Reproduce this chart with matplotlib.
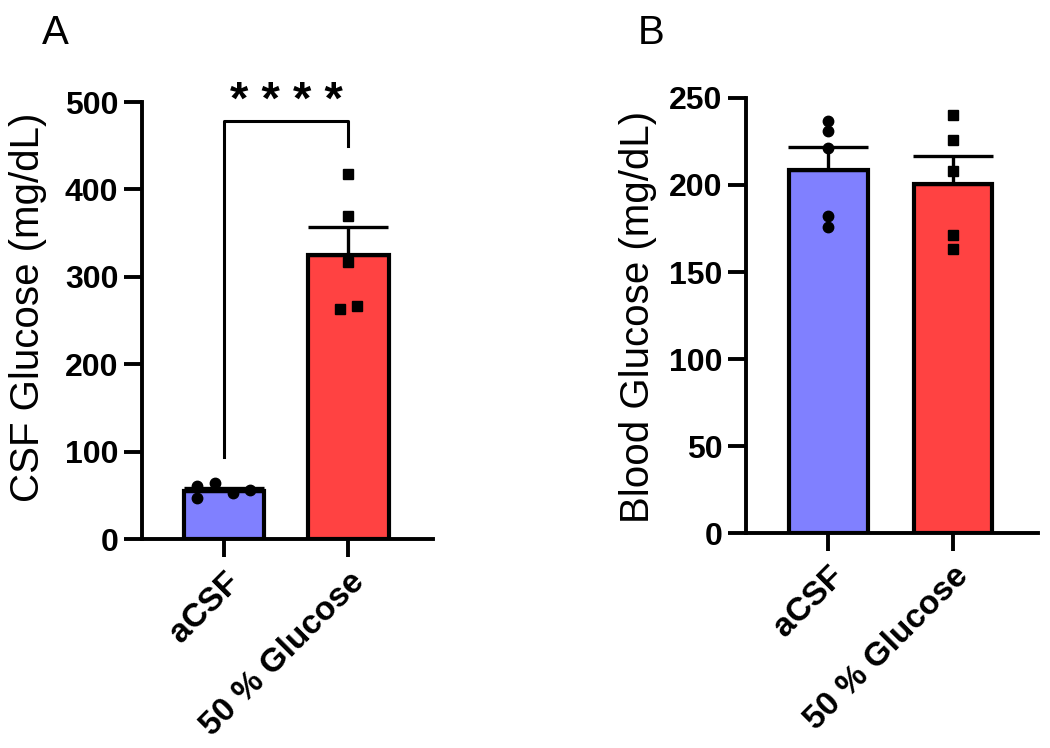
import matplotlib
matplotlib.use("Agg")
import matplotlib.pyplot as plt

plt.rcParams['font.family'] = ['Liberation Sans', 'DejaVu Sans']

# groups
groups = ['aCSF', '50 % Glucose']
bar_colors = ['#8080FF', '#FF4242']
markers = ['o', 's']

# panel A - CSF glucose (mean, SEM, individual animals)
csf_mean = [55, 325]
csf_sem = [3, 32]
csf_points = [[61, 47, 64, 53, 56], [418, 370, 317, 263, 267]]
csf_jitter = [[-0.22, -0.22, -0.076, 0.068, 0.205], [0, 0, 0, -0.07, 0.07]]

# panel B - blood glucose
blood_mean = [208.6, 200.6]
blood_sem = [13.4, 16]
blood_points = [[237, 231, 221, 182, 176], [240, 226, 208, 171, 163]]
blood_jitter = [[0, 0, 0, 0, 0], [0, 0, 0, 0, 0]]

# bracket for the t-test
sig_text = '* * * *'
sig_left, sig_top, sig_right = 94, 478, 450


def bar_panel(ax, means, sems, points, jitter, ylim, yticks, ylabel, width):
    x = range(len(groups))
    ax.bar(x, means, width=width, color=bar_colors, edgecolor='black',
           linewidth=3, zorder=1)
    for i in x:
        ax.errorbar(i, means[i], yerr=[[0], [sems[i]]], color='black',
                    elinewidth=2.4, capsize=29, capthick=2.4, zorder=2)
        ax.plot([i + j for j in jitter[i]], points[i], linestyle='none',
                marker=markers[i], color='black',
                markersize=7.5 if markers[i] == 'o' else 7, zorder=3,
                clip_on=False)

    ax.set_xlim(-0.66, 1.68)
    ax.set_ylim(*ylim)
    ax.set_yticks(yticks)
    ax.set_xticks(list(x))
    ax.set_xticklabels(groups, rotation=45, ha='right', rotation_mode='anchor',
                       fontsize=24, fontweight='bold')
    for lab in ax.get_yticklabels():
        lab.set_fontsize(23)
        lab.set_fontweight('bold')
    ax.set_ylabel(ylabel, fontsize=29)

    for s in ['top', 'right']:
        ax.spines[s].set_visible(False)
    for s in ['left', 'bottom']:
        ax.spines[s].set_linewidth(2.8)
    ax.tick_params(length=13, width=2.8, pad=4)
    ax.tick_params(axis='x', pad=7)


fig = plt.figure(figsize=(10.5, 7.48), dpi=100)
axA = fig.add_axes([0.1352, 0.2794, 0.2772, 0.5842])
axB = fig.add_axes([0.7105, 0.2874, 0.2781, 0.5816])

bar_panel(axA, csf_mean, csf_sem, csf_points, csf_jitter, (0, 500),
          [0, 100, 200, 300, 400, 500], 'CSF Glucose (mg/dL)', 0.65)
bar_panel(axB, blood_mean, blood_sem, blood_points, blood_jitter, (0, 250),
          [0, 50, 100, 150, 200, 250], 'Blood Glucose (mg/dL)', 0.63)

axA.yaxis.set_label_coords(-0.326, 0.53)
axB.yaxis.set_label_coords(-0.305, 0.497)

# significance bracket
axA.plot([0, 0, 1, 1], [sig_left, sig_top, sig_top, sig_right], color='black',
         linewidth=2.2, clip_on=False)
axA.text(0.5, 486, sig_text, ha='center', va='baseline', fontsize=34,
         fontweight='bold')

# panel letters
fig.text(42 / 1050, 1 - 44 / 748, 'A', fontsize=29)
fig.text(638 / 1050, 1 - 44 / 748, 'B', fontsize=29)

fig.savefig('out.png', dpi=100)
